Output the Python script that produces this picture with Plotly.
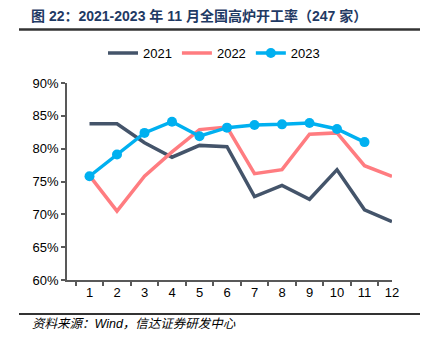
import plotly.graph_objects as go

months = ["1", "2", "3", "4", "5", "6", "7", "8", "9", "10", "11", "12"]
y2021 = [83.8, 83.8, 80.9, 78.7, 80.5, 80.3, 72.7, 74.4, 72.3, 76.8, 70.7, 68.9]
y2022 = [75.9, 70.5, 75.8, 79.5, 82.9, 83.3, 76.2, 76.8, 82.2, 82.4, 77.4, 75.8]
y2023 = [75.8, 79.1, 82.4, 84.1, 81.9, 83.2, 83.6, 83.7, 83.9, 83.0, 81.0]
yticks = [60, 65, 70, 75, 80, 85, 90]
ytick_text = ["60%", "65%", "70%", "75%", "80%", "85%", "90%"]

title = "图 22：2021-2023 年 11 月全国高炉开工率（247 家）"
source = "资料来源：Wind，信达证券研发中心"

fig = go.Figure()
fig.add_trace(go.Scatter(x=months, y=y2021, name="2021", mode="lines",
                         line=dict(color="#44546A", width=3.5)))
fig.add_trace(go.Scatter(x=months, y=y2022, name="2022", mode="lines",
                         line=dict(color="#FF7C80", width=3.5)))
fig.add_trace(go.Scatter(x=months[:len(y2023)], y=y2023, name="2023", mode="lines+markers",
                         line=dict(color="#00B0F0", width=3.5),
                         marker=dict(color="#00B0F0", size=10)))

L, R, T, B = 67, 392, 82.7, 280
W, H = 427, 347
pw, ph = R - L, B - T

def px(x):
    return (x - L) / pw

def py(y):
    return (B - y) / ph

fig.update_layout(
    width=W, height=H,
    margin=dict(l=L, r=W - R, t=T, b=H - B),
    paper_bgcolor="white", plot_bgcolor="white",
    font=dict(family="Liberation Sans, Arial, Noto Sans CJK SC", size=13, color="#000000"),
    showlegend=True,
    legend=dict(orientation="h", x=px(103), y=py(52.7), xanchor="left", yanchor="middle",
                font=dict(size=13, color="#000000"), itemwidth=30, tracegroupgap=0,
                bgcolor="rgba(0,0,0,0)"),
    xaxis=dict(type="category", showgrid=False, showline=True, linecolor="#595959", linewidth=1.5,
               ticks="outside", tickson="boundaries", ticklen=4, tickcolor="#595959", tickwidth=1.5,
               tickfont=dict(size=13), zeroline=False, fixedrange=True),
    yaxis=dict(range=[60, 90], tickvals=yticks, ticktext=ytick_text, showgrid=False,
               showline=True, linecolor="#595959", linewidth=1.5, ticks="outside", ticklen=4,
               tickcolor="#595959", tickwidth=1.5, tickfont=dict(size=13), zeroline=False),
    shapes=[
        dict(type="line", xref="paper", yref="paper", x0=px(19), x1=px(420), y0=py(29), y1=py(29),
             line=dict(color="#333333", width=2.5)),
        dict(type="line", xref="paper", yref="paper", x0=px(19), x1=px(420), y0=py(314), y1=py(314),
             line=dict(color="#333333", width=2)),
    ],
    annotations=[
        dict(text="<b>" + title + "</b>", xref="paper", yref="paper", x=px(29), y=py(16),
             xanchor="left", yanchor="middle", showarrow=False,
             font=dict(size=14, color="#1F3A64", family="Liberation Sans, Arial, Noto Sans CJK SC")),
        dict(text="<i>" + source + "</i>", xref="paper", yref="paper", x=px(30), y=py(324),
             xanchor="left", yanchor="middle", showarrow=False,
             font=dict(size=12.5, color="#000000", family="Liberation Sans, Arial, Noto Sans CJK SC")),
    ],
)

fig.write_html("out.html")
